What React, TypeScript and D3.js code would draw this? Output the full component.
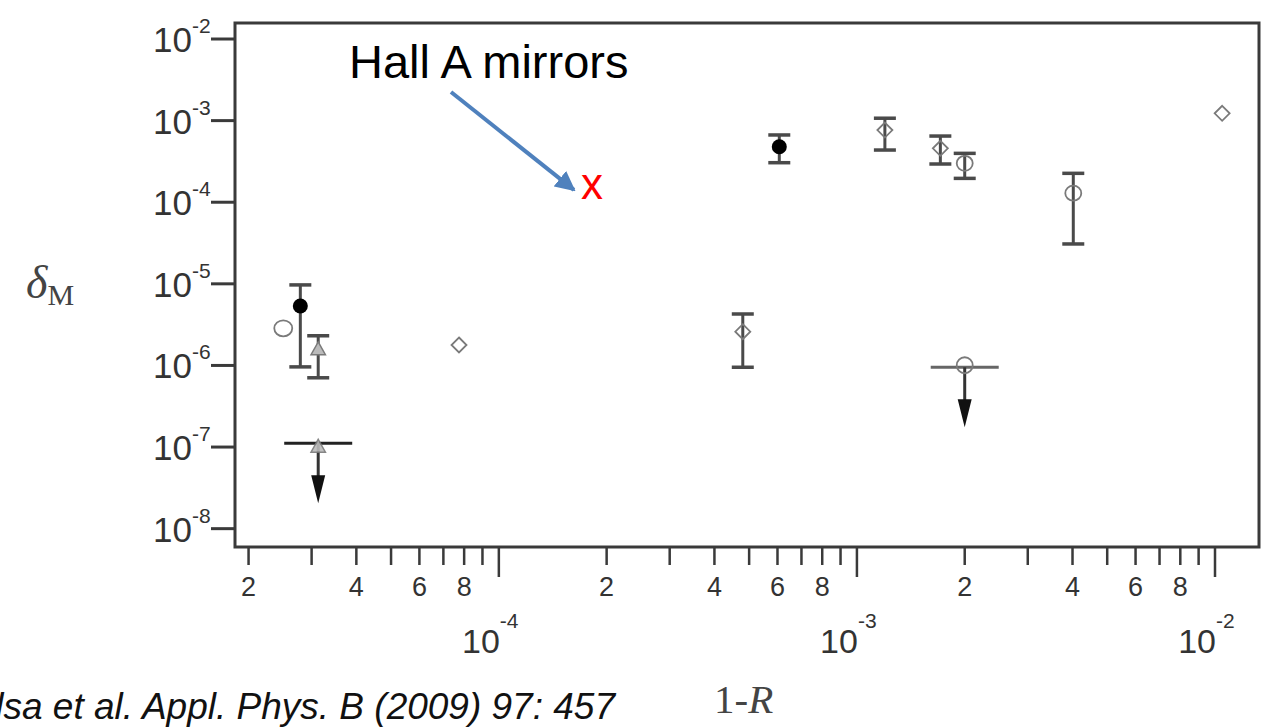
import React from "react";
import * as d3 from "d3";

// ---------- data ----------
// filled circles with error bars
const filledX = [2.79e-5, 6.07e-4];
const filledY = [5.35e-6, 4.79e-4];
const filledHi = [9.7e-6, 6.67e-4];
const filledLo = [9.6e-7, 3.05e-4];

// open circles
const circX = [2.5e-5, 2.0e-3, 4.02e-3];
const circY = [2.85e-6, 3.0e-4, 1.29e-4];
const circHi: (number | null)[] = [null, 3.97e-4, 2.26e-4];
const circLo: (number | null)[] = [null, 1.96e-4, 3.08e-5];

// open triangles
const triX = [3.13e-5];
const triY = [1.55e-6];
const triHi = [2.31e-6];
const triLo = [7.06e-7];

// open diamonds
const diaX = [7.74e-5, 4.8e-4, 1.197e-3, 1.71e-3, 1.047e-2];
const diaY = [1.78e-6, 2.59e-6, 7.67e-4, 4.58e-4, 1.23e-3];
const diaHi: (number | null)[] = [null, 4.27e-6, 1.07e-3, 6.47e-4, null];
const diaLo: (number | null)[] = [null, 9.5e-7, 4.36e-4, 2.94e-4, null];

// upper limits
const limX = [3.13e-5, 2.0e-3];
const limY = [1.11e-7, 9.5e-7];
const limMarker = ["triangle", "circle"];

// annotation point (Hall A mirrors)
const hallX = 1.82e-4;
const hallY = 1.63e-4;

// axis ticks
const yTickExp = [-2, -3, -4, -5, -6, -7, -8];
const xMajorExp = [-4, -3, -2];
const xMinorMult = [2, 3, 4, 5, 6, 7, 8, 9];
const xLabeledMult = [2, 4, 6, 8];
const xMinorDecades = [-5, -4, -3];

// ---------- layout ----------
const W = 1272;
const H = 727;
const left = 235;
const right = 1259;
const top = 23;
const bottom = 547;

const x = d3.scaleLog().domain([1.833e-5, 1.327e-2]).range([left, right]);
const y = d3.scaleLog().domain([1.571e-2, 5.96e-9]).range([top, bottom]);

const AX = "#3a3a3a";
const BAR = "#4a4a4a";
const MK = "#7a7a7a";

function ErrBar({ cx, hi, lo }: { cx: number; hi: number; lo: number }) {
  const xp = x(cx);
  return (
    <g stroke={BAR} strokeWidth={3}>
      <line x1={xp} x2={xp} y1={y(hi)} y2={y(lo)} />
      <line x1={xp - 11} x2={xp + 11} y1={y(hi)} y2={y(hi)} strokeWidth={3.5} />
      <line x1={xp - 11} x2={xp + 11} y1={y(lo)} y2={y(lo)} strokeWidth={3.5} />
    </g>
  );
}

const diamondPath = (cx: number, cy: number, r: number) =>
  `M${cx},${cy - r}L${cx + r},${cy}L${cx},${cy + r}L${cx - r},${cy}Z`;
const triPath = (cx: number, cy: number, r: number) =>
  `M${cx},${cy - r}L${cx + r * 0.9},${cy + r * 0.6}L${cx - r * 0.9},${cy + r * 0.6}Z`;

export default function App() {
  const minorTicks: number[] = [];
  xMinorDecades.forEach((e) =>
    xMinorMult.forEach((m) => {
      const v = m * Math.pow(10, e);
      const [d0, d1] = x.domain();
      if (v >= d0 && v <= d1) minorTicks.push(v);
    })
  );
  const labeledTicks = minorTicks.filter((v) => {
    const m = Math.round(v / Math.pow(10, Math.floor(Math.log10(v) + 1e-9)));
    return xLabeledMult.includes(m);
  });

  const arrowLen = 60;

  return (
    <svg width={W} height={H} style={{ position: "absolute", left: 0, top: 0, background: "#fff" }}>
      <rect x={0} y={0} width={W} height={H} fill="#fff" />
      {/* frame */}
      <rect x={left} y={top} width={right - left} height={bottom - top} fill="none" stroke={AX} strokeWidth={3} />

      {/* y ticks */}
      {yTickExp.map((e) => {
        const yp = y(Math.pow(10, e));
        return (
          <g key={"yt" + e}>
            <line x1={left - 24} x2={left} y1={yp} y2={yp} stroke={AX} strokeWidth={3} />
            <text x={192} y={yp + 13} textAnchor="end" fontFamily="Liberation Sans, Arial, sans-serif" fontSize={35} fill="#333">
              10
            </text>
            <text x={192} y={yp - 6} fontFamily="Liberation Sans, Arial, sans-serif" fontSize={21} fill="#333">
              {"-" + Math.abs(e)}
            </text>
          </g>
        );
      })}

      {/* x ticks */}
      {minorTicks.map((v, i) => (
        <line key={"xm" + i} x1={x(v)} x2={x(v)} y1={bottom} y2={bottom + 18} stroke={AX} strokeWidth={2.5} />
      ))}
      {xMajorExp.map((e) => {
        const xp = x(Math.pow(10, e));
        return (
          <g key={"xM" + e}>
            <line x1={xp} x2={xp} y1={bottom} y2={bottom + 30} stroke={AX} strokeWidth={2.5} />
            <text x={xp + 1} y={653} textAnchor="end" fontFamily="Liberation Sans, Arial, sans-serif" fontSize={34} fill="#333">
              10
            </text>
            <text x={xp + 1} y={628} fontFamily="Liberation Sans, Arial, sans-serif" fontSize={21} fill="#333">
              {"-" + Math.abs(e)}
            </text>
          </g>
        );
      })}
      {labeledTicks.map((v, i) => (
        <text key={"xl" + i} x={x(v)} y={596} textAnchor="middle" fontFamily="Liberation Sans, Arial, sans-serif" fontSize={27} fill="#333">
          {Math.round(v / Math.pow(10, Math.floor(Math.log10(v) + 1e-9)))}
        </text>
      ))}

      {/* axis titles */}
      <text x={26} y={298} fontFamily="Liberation Serif, 'Times New Roman', serif" fontSize={46} fontStyle="italic" fill="#444">
        δ
        <tspan fontStyle="normal" fontSize={30} dy={7}>M</tspan>
      </text>
      <text x={714} y={713} fontFamily="Liberation Serif, 'Times New Roman', serif" fontSize={41} fill="#444">
        1-<tspan fontStyle="italic">R</tspan>
      </text>

      {/* citation */}
      <text x={615} y={719} textAnchor="end" fontFamily="Liberation Sans, Arial, sans-serif" fontSize={37} fontStyle="italic" fill="#111">
        Bielsa et al. Appl. Phys. B (2009) 97: 457
      </text>

      {/* error bars */}
      {filledX.map((v, i) => (
        <ErrBar key={"fe" + i} cx={v} hi={filledHi[i]} lo={filledLo[i]} />
      ))}
      {circX.map((v, i) =>
        circHi[i] != null ? <ErrBar key={"ce" + i} cx={v} hi={circHi[i] as number} lo={circLo[i] as number} /> : null
      )}
      {triX.map((v, i) => (
        <ErrBar key={"te" + i} cx={v} hi={triHi[i]} lo={triLo[i]} />
      ))}
      {diaX.map((v, i) =>
        diaHi[i] != null ? <ErrBar key={"de" + i} cx={v} hi={diaHi[i] as number} lo={diaLo[i] as number} /> : null
      )}

      {/* upper limits */}
      {limX.map((v, i) => {
        const xp = x(v);
        const yp = y(limY[i]);
        const tip = yp + arrowLen;
        return (
          <g key={"lim" + i}>
            <line x1={xp - 34} x2={xp + 34} y1={yp} y2={yp} stroke={i === 0 ? "#222" : "#666"} strokeWidth={3} />
            <line x1={xp} x2={xp} y1={yp} y2={tip - 20} stroke="#333" strokeWidth={3} />
            <path d={`M${xp - 7},${tip - 28}L${xp + 7},${tip - 28}L${xp},${tip}Z`} fill="#111" />
            {limMarker[i] === "triangle" ? (
              <path d={triPath(xp, yp + 4, 8)} fill="#bbb" stroke={MK} strokeWidth={1.5} opacity={0.9} />
            ) : (
              <circle cx={xp} cy={yp - 2} r={8} fill="none" stroke={MK} strokeWidth={1.8} />
            )}
          </g>
        );
      })}

      {/* markers */}
      {circX.map((v, i) => (
        <ellipse key={"c" + i} cx={x(v)} cy={y(circY[i])} rx={i === 0 ? 9 : 8} ry={i === 0 ? 8 : 7.5} fill="none" stroke={MK} strokeWidth={1.8} />
      ))}
      {triX.map((v, i) => (
        <path key={"t" + i} d={triPath(x(v), y(triY[i]), 8)} fill="#bbb" stroke={MK} strokeWidth={1.5} />
      ))}
      {diaX.map((v, i) => (
        <path key={"d" + i} d={diamondPath(x(v), y(diaY[i]), 7.5)} fill="#fff" fillOpacity={0} stroke={MK} strokeWidth={1.8} />
      ))}
      {filledX.map((v, i) => (
        <circle key={"f" + i} cx={x(v)} cy={y(filledY[i])} r={7.5} fill="#000" />
      ))}

      {/* annotation */}
      <text x={349} y={78} fontFamily="Liberation Sans, Arial, sans-serif" fontSize={47} fill="#000">
        Hall A mirrors
      </text>
      <defs>
        <marker id="ah" viewBox="0 0 10 10" refX={9} refY={5} markerWidth={5} markerHeight={5} orient="auto">
          <path d="M0,0L10,5L0,10Z" fill="#4f81bd" />
        </marker>
      </defs>
      <line x1={451} y1={92} x2={x(hallX) - 18} y2={y(hallY) + 5} stroke="#4f81bd" strokeWidth={4} markerEnd="url(#ah)" />
      <text x={x(hallX)} y={y(hallY) + 14} textAnchor="middle" fontFamily="Liberation Sans, Arial, sans-serif" fontSize={44} fill="#ff0000">
        x
      </text>
    </svg>
  );
}
